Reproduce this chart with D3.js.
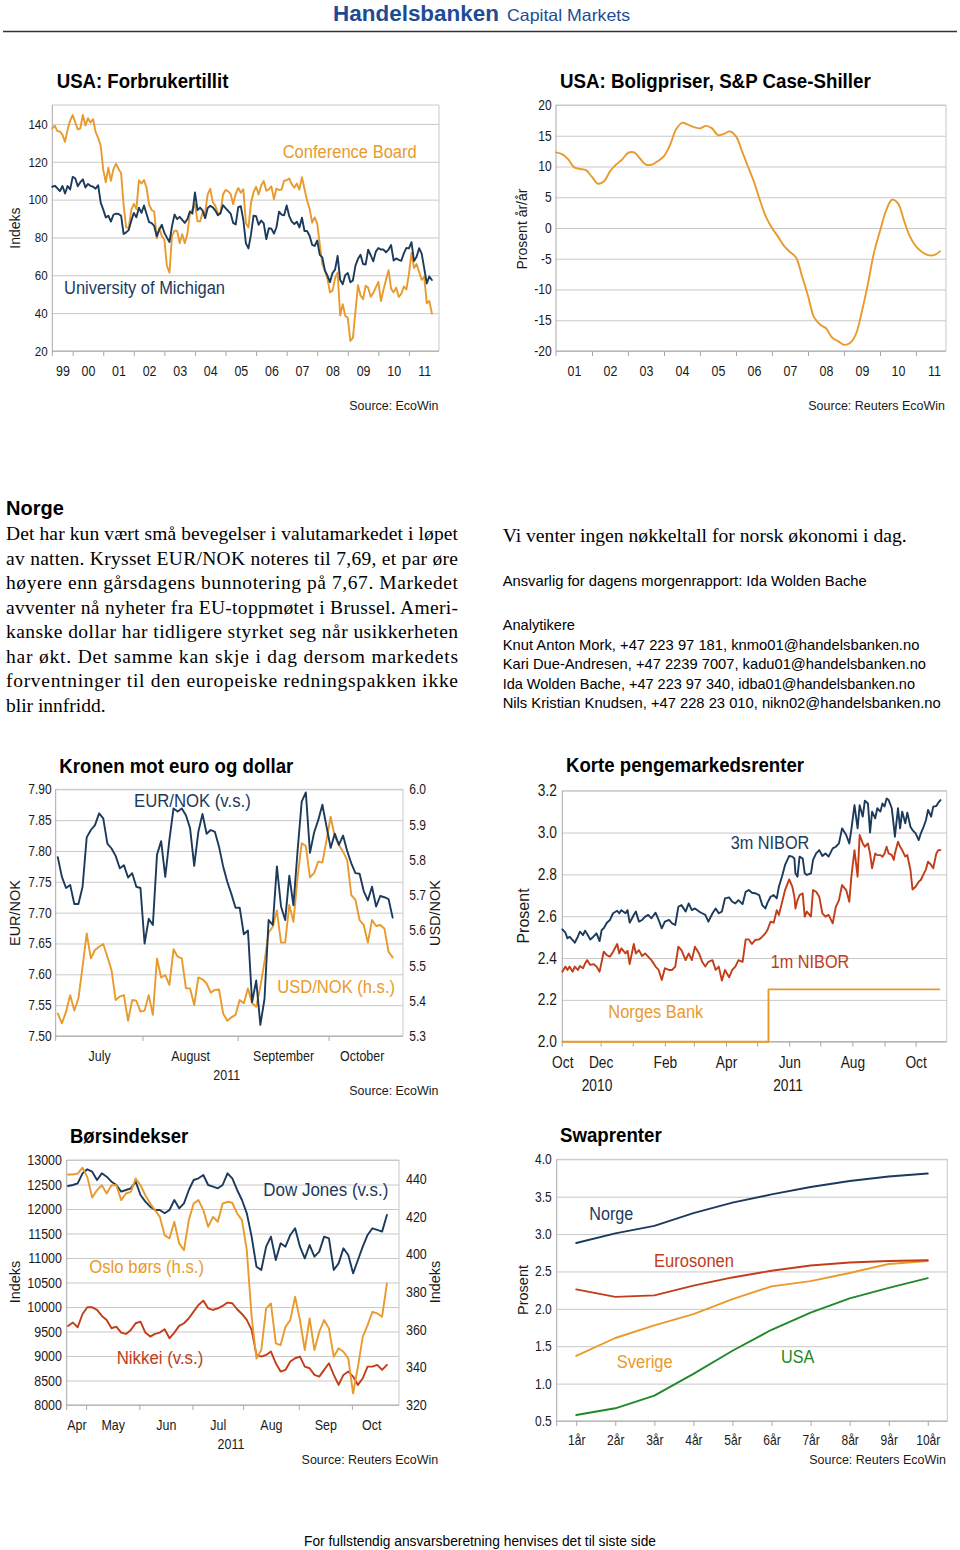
<!DOCTYPE html>
<html>
<head>
<meta charset="utf-8">
<script src="https://cdnjs.cloudflare.com/ajax/libs/d3/7.8.5/d3.min.js"></script>
<style>
  body { margin: 0; background: #fff; }
  svg { display: block; }
</style>
</head>
<body>
<svg id="page" width="960" height="1550"></svg>
<script>
// ---------------- data ----------------

// USA: Forbrukertillit, monthly from May 1999 (month index 4 counted from Jan 1999)
var confStartMonth = 4;
var michigan = [
  106.8, 107.3, 106.0, 104.5, 107.2, 103.2, 107.2, 105.4,
  112.0, 111.3, 107.1, 109.2, 110.7, 106.4, 108.3, 107.3, 106.8, 105.8, 107.6, 98.4,
  94.7, 90.6, 91.5, 88.4, 92.0, 92.6, 92.4, 91.5, 81.8, 82.7, 83.9, 88.8,
  93.0, 90.7, 95.7, 93.0, 96.9, 92.4, 88.1, 87.6, 86.1, 80.6, 84.2, 86.7,
  82.4, 79.9, 77.6, 86.0, 92.1, 89.7, 90.9, 89.3, 87.7, 89.6, 93.7, 92.6,
  103.8, 94.4, 95.8, 94.2, 90.2, 95.6, 96.7, 95.9, 94.2, 91.7, 92.8, 97.1,
  95.5, 94.1, 92.6, 87.7, 86.9, 96.0, 96.5, 89.1, 76.9, 74.2, 81.6, 91.5,
  91.2, 86.7, 88.9, 87.4, 79.1, 84.9, 84.7, 82.0, 85.4, 93.6, 92.1, 91.7,
  96.9, 91.3, 88.4, 87.1, 88.3, 85.3, 90.4, 83.4, 83.4, 80.9, 76.1, 75.5,
  78.4, 70.8, 69.5, 62.6, 59.8, 56.4, 61.2, 63.0, 70.3, 57.6, 55.3, 60.1,
  61.2, 56.3, 57.3, 65.1, 68.7, 70.8, 66.0, 65.7, 73.5, 70.6, 67.4, 72.5,
  74.4, 73.6, 73.6, 72.2, 73.6, 76.0, 67.8, 68.9, 68.2, 67.7, 71.6, 74.5,
  74.2, 77.5, 67.5, 69.8, 74.3, 71.5, 63.7, 55.7, 59.4, 57.5
];
var confBoard = [
  137.7, 139.0, 136.2, 136.0, 134.2, 130.5, 137.0, 141.7,
  144.7, 140.8, 137.1, 137.7, 144.7, 139.2, 143.0, 140.8, 142.5, 135.8, 132.6, 128.6,
  115.7, 109.2, 116.9, 109.9, 116.1, 118.9, 116.3, 114.0, 97.0, 85.3, 84.9, 94.6,
  97.8, 95.0, 110.2, 108.5, 110.3, 106.3, 97.4, 94.5, 93.7, 79.6, 84.9, 80.7,
  78.8, 64.8, 61.4, 81.0, 83.6, 83.5, 77.0, 81.7, 77.0, 81.7, 92.5, 94.8,
  97.7, 88.5, 88.5, 93.0, 93.1, 102.8, 105.7, 98.7, 96.7, 92.9, 92.6, 102.7,
  105.1, 104.4, 103.0, 97.5, 103.1, 106.2, 103.6, 105.5, 87.5, 85.2, 98.3, 103.8,
  106.8, 102.7, 107.5, 109.8, 104.7, 105.4, 107.0, 100.2, 105.9, 105.1, 105.3, 110.0,
  110.2, 111.2, 108.2, 106.3, 108.5, 105.3, 111.9, 105.6, 99.5, 95.2, 87.8, 90.6,
  87.3, 76.4, 65.9, 62.8, 58.1, 51.0, 51.9, 58.5, 61.4, 38.8, 44.7, 38.6,
  37.4, 25.3, 26.9, 40.8, 54.8, 49.3, 47.4, 54.5, 53.4, 48.7, 50.6, 53.6,
  56.5, 46.4, 52.3, 57.7, 62.7, 52.9, 51.0, 53.5, 48.6, 50.2, 54.1, 52.5,
  60.6, 72.0, 63.8, 66.0, 61.7, 57.6, 59.2, 45.2, 46.4, 39.8
];
var yearsA = ["99", "00", "01", "02", "03", "04", "05", "06", "07", "08", "09", "10", "11"];

// USA: Boligpriser, every second month from Jan 2001
var csStartYear = 2001;
var caseShiller = [
  12.3, 12.0, 11.2, 9.9, 9.6, 9.4, 8.3, 7.2, 7.6, 9.2,
  10.3, 11.1, 12.2, 12.3, 11.3, 10.3, 10.3, 10.9, 11.7, 13.5,
  16.0, 17.1, 16.8, 16.4, 16.2, 16.6, 16.2, 15.1, 15.3, 15.7,
  14.9, 12.5, 10.0, 7.5, 4.5, 1.8, 0.0, -1.4, -2.9, -3.9,
  -4.8, -7.8, -11.0, -14.5, -15.7, -16.3, -17.8, -18.4, -19.0, -18.7,
  -17.2, -13.5, -9.0, -4.0, -0.5, 2.8, 4.6, 4.0, 1.2, -1.4,
  -3.0, -3.9, -4.4, -4.4, -3.8
];
var yearsB = ["01", "02", "03", "04", "05", "06", "07", "08", "09", "10", "11"];

// Kronen mot euro og dollar, business days Jul-Oct 2011
var fxMonths = ["July", "August", "September", "October"];
var fxMonthDays = [21, 23, 22, 16];
var eurNok = [
  7.790, 7.758, 7.740, 7.745, 7.714, 7.714, 7.742, 7.822, 7.834, 7.842,
  7.861, 7.853, 7.812, 7.804, 7.792, 7.772, 7.777, 7.757, 7.764, 7.742,
  7.740, 7.650, 7.690, 7.680, 7.794, 7.816, 7.758, 7.818, 7.869, 7.864,
  7.869, 7.858, 7.837, 7.776, 7.831, 7.860, 7.828, 7.834, 7.831, 7.807,
  7.775, 7.750, 7.730, 7.708, 7.708, 7.665, 7.671, 7.555, 7.590, 7.518,
  7.560, 7.688, 7.680, 7.775, 7.710, 7.688, 7.760, 7.712, 7.800, 7.880,
  7.895, 7.797, 7.830, 7.850, 7.875, 7.840, 7.805, 7.828, 7.810, 7.825,
  7.800, 7.780, 7.764, 7.763, 7.735, 7.720, 7.742, 7.710, 7.727, 7.725,
  7.722, 7.692
];
var usdNok = [
  5.364, 5.336, 5.369, 5.416, 5.372, 5.407, 5.497, 5.591, 5.520, 5.544,
  5.553, 5.561, 5.525, 5.487, 5.402, 5.412, 5.416, 5.343, 5.402, 5.400,
  5.369, 5.372, 5.416, 5.360, 5.520, 5.466, 5.473, 5.445, 5.546, 5.525,
  5.520, 5.435, 5.435, 5.388, 5.466, 5.461, 5.449, 5.423, 5.431, 5.432,
  5.364, 5.343, 5.353, 5.360, 5.402, 5.393, 5.435, 5.393, 5.383, 5.440,
  5.511, 5.593, 5.610, 5.656, 5.565, 5.565, 5.672, 5.624, 5.750, 5.847,
  5.839, 5.750, 5.762, 5.795, 5.792, 5.856, 5.922, 5.866, 5.842, 5.823,
  5.799, 5.700, 5.686, 5.629, 5.615, 5.565, 5.629, 5.612, 5.615, 5.605,
  5.539, 5.523
];

// Korte pengemarkedsrenter, days counted from 25 Oct 2010
var niborStart = "2010-10-25";
var niborEnd = "2011-10-31";
var niborDays = [
  0, 3, 5, 7, 10, 12, 15, 17, 20, 22, 24, 27, 30, 33, 36, 38, 40, 43, 46, 49,
  53, 55, 57, 61, 63, 65, 69, 71, 74, 77, 80, 83, 86, 90, 93, 96, 99, 103, 106, 109,
  112, 115, 119, 122, 125, 128, 132, 135, 138, 141, 145, 148, 151, 154, 157, 161, 164, 167, 170, 174,
  177, 180, 183, 186, 190, 193, 196, 198, 201, 204, 207, 209, 212, 215, 219, 222, 224, 225, 227, 229,
  232, 234, 236, 240, 242, 245, 248, 251, 254, 257, 261, 264, 267, 270, 274, 277, 279, 282, 285, 287,
  290, 292, 295, 297, 299, 302, 304, 307, 309, 311, 313, 315, 318, 320, 321, 324, 326, 328, 331, 333,
  336, 338, 341, 344, 346, 349, 351, 353, 356, 358, 361, 363, 365
];
var nibor3m = [
  2.537, 2.521, 2.494, 2.502, 2.486, 2.473, 2.502, 2.526, 2.510, 2.531,
  2.515, 2.489, 2.502, 2.518, 2.481, 2.534, 2.542, 2.569, 2.582, 2.614,
  2.626, 2.614, 2.629, 2.614, 2.629, 2.569, 2.606, 2.622, 2.574, 2.582,
  2.598, 2.606, 2.590, 2.617, 2.582, 2.542, 2.574, 2.582, 2.566, 2.558,
  2.645, 2.653, 2.622, 2.661, 2.629, 2.637, 2.622, 2.614, 2.606, 2.574,
  2.614, 2.637, 2.614, 2.622, 2.685, 2.690, 2.669, 2.661, 2.677, 2.658,
  2.717, 2.725, 2.712, 2.710, 2.701, 2.653, 2.637, 2.664, 2.693, 2.701,
  2.685, 2.741, 2.789, 2.845, 2.888, 2.885, 2.876, 2.805, 2.789, 2.885,
  2.876, 2.805, 2.797, 2.805, 2.869, 2.900, 2.916, 2.888, 2.900, 2.885,
  2.924, 2.932, 2.948, 3.020, 2.988, 2.948, 3.015, 3.131, 3.020, 3.131,
  3.076, 3.152, 3.139, 3.000, 3.100, 3.068, 3.116, 3.100, 3.139, 3.124,
  3.163, 3.155, 3.116, 3.028, 2.980, 3.116, 3.020, 3.100, 3.044, 3.095,
  3.028, 3.012, 2.996, 2.964, 2.996, 3.031, 3.060, 3.108, 3.076, 3.124,
  3.127, 3.143, 3.155
];
var nibor1m = [
  2.335, 2.359, 2.343, 2.359, 2.335, 2.359, 2.343, 2.362, 2.351, 2.374,
  2.390, 2.367, 2.371, 2.359, 2.335, 2.382, 2.430, 2.414, 2.406, 2.430,
  2.467, 2.422, 2.446, 2.422, 2.435, 2.371, 2.467, 2.422, 2.438, 2.410,
  2.422, 2.406, 2.390, 2.359, 2.343, 2.295, 2.351, 2.343, 2.343, 2.359,
  2.454, 2.438, 2.390, 2.422, 2.390, 2.454, 2.422, 2.382, 2.359, 2.382,
  2.390, 2.343, 2.359, 2.292, 2.343, 2.308, 2.343, 2.359, 2.390, 2.382,
  2.489, 2.489, 2.467, 2.486, 2.489, 2.502, 2.518, 2.534, 2.574, 2.569,
  2.629, 2.606, 2.664, 2.725, 2.776, 2.741, 2.693, 2.637, 2.677, 2.701,
  2.709, 2.598, 2.622, 2.598, 2.725, 2.717, 2.693, 2.614, 2.598, 2.606,
  2.566, 2.645, 2.677, 2.749, 2.725, 2.669, 2.789, 2.916, 2.789, 2.988,
  2.948, 2.932, 2.948, 2.900, 2.829, 2.900, 2.892, 2.892, 2.884, 2.900,
  2.932, 2.900, 2.892, 2.869, 2.900, 2.956, 2.932, 2.916, 2.885, 2.892,
  2.821, 2.728, 2.741, 2.765, 2.773, 2.805, 2.824, 2.861, 2.845, 2.829,
  2.900, 2.916, 2.916
];
var policyDates = ["2010-10-25", "2011-05-12", "2011-10-24"];
var policyRate = [2.00, 2.25, 2.25];

// Børsindekser, every second business day from 19 Apr 2011
var stockMonths = ["Apr", "May", "Jun", "Jul", "Aug", "Sep", "Oct"];
var stockMonthDays = [8, 22, 22, 21, 23, 22, 16];
var stockStep = 2;
var dowJones = [
  12469, 12490, 12524, 12728, 12810, 12762, 12592, 12728, 12660, 12558,
  12490, 12354, 12388, 12422, 12558, 12286, 12150, 12048, 11980, 11980,
  11912, 11980, 12184, 12014, 12116, 12388, 12592, 12626, 12694, 12490,
  12456, 12422, 12490, 12728, 12626, 12388, 12184, 11912, 11436, 10823,
  10755, 11231, 11436, 10959, 11300, 11231, 11470, 11606, 11231, 10993,
  11265, 11027, 11130, 11436, 11402, 10755, 10891, 11197, 11061, 10687,
  10959, 11231, 11470, 11606, 11572, 11538, 11878
];
var osloBors = [
  442.4, 442.4, 442.9, 446.0, 441.0, 430.2, 434.1, 436.7, 432.3, 436.7,
  436.7, 428.8, 432.3, 433.2, 440.3, 436.7, 431.4, 427.0, 423.5, 419.9,
  410.2, 408.4, 417.3, 405.8, 402.2, 418.2, 427.0, 428.8, 423.5, 414.6,
  419.9, 417.3, 427.0, 427.9, 427.4, 421.7, 418.2, 402.2, 366.9, 344.7,
  349.2, 371.3, 373.9, 352.7, 351.8, 361.5, 365.1, 377.5, 365.1, 349.2,
  366.0, 349.2, 358.9, 365.1, 360.7, 345.6, 350.1, 348.3, 344.7, 326.1,
  340.3, 356.2, 362.4, 369.5, 368.6, 366.9, 384.6
];
var nikkei = [
  9614, 9682, 9586, 9858, 9994, 9994, 9940, 9818, 9736, 9566,
  9600, 9478, 9450, 9532, 9668, 9702, 9478, 9396, 9450, 9478,
  9546, 9362, 9478, 9614, 9668, 9770, 9906, 10042, 10130, 9974,
  9940, 9974, 10022, 10090, 10076, 9954, 9858, 9736, 9532, 9022,
  8988, 9022, 9090, 8852, 8682, 8716, 8886, 8954, 8988, 8784,
  8750, 8614, 8580, 8716, 8852, 8614, 8410, 8614, 8682, 8580,
  8410, 8546, 8784, 8784, 8818, 8716, 8818
];

// Swaprenter
var swapTenors = ["1år", "2år", "3år", "4år", "5år", "6år", "7år", "8år", "9år", "10år"];
var swapNorge   = [2.88, 3.01, 3.11, 3.28, 3.42, 3.53, 3.63, 3.71, 3.77, 3.81];
var swapEuro    = [2.26, 2.16, 2.18, 2.31, 2.42, 2.51, 2.58, 2.62, 2.64, 2.65];
var swapSverige = [1.37, 1.61, 1.78, 1.93, 2.13, 2.30, 2.37, 2.48, 2.60, 2.64];
var swapUSA     = [0.58, 0.67, 0.84, 1.13, 1.44, 1.72, 1.95, 2.14, 2.28, 2.41];

// text
var norgeLines = [
  "Det har kun vært små bevegelser i valutamarkedet i løpet",
  "av natten. Krysset EUR/NOK noteres til 7,69, et par øre",
  "høyere enn gårsdagens bunnotering på 7,67. Markedet",
  "avventer nå nyheter fra EU-toppmøtet i Brussel. Ameri-",
  "kanske dollar har tidligere styrket seg når usikkerheten",
  "har økt. Det samme kan skje i dag dersom markedets",
  "forventninger til den europeiske redningspakken ikke",
  "blir innfridd."
];
var analysts = [
  "Knut Anton Mork, +47 223 97 181, knmo01@handelsbanken.no",
  "Kari Due-Andresen, +47 2239 7007, kadu01@handelsbanken.no",
  "Ida Wolden Bache, +47 223 97 340, idba01@handelsbanken.no",
  "Nils Kristian Knudsen, +47 228 23 010, nikn02@handelsbanken.no"
];
var analystWidths = [416.7, 423.3, 412.3, 438];

// ---------------- drawing ----------------
var FONT = "'Liberation Sans', Arial, sans-serif";
var SERIF = "'Liberation Serif', 'Times New Roman', serif";
var NAVY = "#1b3a5c", ORANGE = "#e99a2c", RED = "#c23d18", GREEN = "#22882a";
var GRID = "#c9c9c9", AXIS = "#a8a8a8", INK = "#1a1a1a";
var SQ = 0.86; // chart lettering is slightly condensed

var svg = d3.select("#page");
svg.append("rect").attr("width", 960).attr("height", 1550).attr("fill", "#fff");

// fitted text, x = left edge, y = visual centre
function fit(g, x, y, str, w, size, color, weight) {
  return g.append("text")
    .attr("x", x).attr("y", y)
    .attr("dominant-baseline", "central")
    .attr("font-family", FONT).attr("font-size", size)
    .attr("font-weight", weight || "normal")
    .attr("fill", color || INK)
    .attr("textLength", w).attr("lengthAdjust", "spacingAndGlyphs")
    .text(str);
}
function vTitle(g, x, y, str, size) {
  g.append("text")
    .attr("transform", "translate(" + x + "," + y + ") rotate(-90)")
    .attr("text-anchor", "middle").attr("dominant-baseline", "central")
    .attr("font-family", FONT).attr("font-size", size).attr("fill", INK)
    .text(str);
}
function tidy(ax, size) {
  ax.attr("font-family", FONT).attr("font-size", size);
  ax.select(".domain").remove();
  ax.selectAll(".tick text").attr("fill", INK).attr("transform", "scale(" + SQ + ",1)");
}
function yGrid(g, y, x0, x1, ticks, fmt, size, pad) {
  var ax = g.append("g").attr("transform", "translate(" + x0 + ",0)")
    .call(d3.axisLeft(y).tickValues(ticks).tickFormat(fmt)
      .tickSizeInner(-(x1 - x0)).tickSizeOuter(0).tickPadding(pad));
  tidy(ax, size);
  ax.selectAll(".tick line").attr("stroke", GRID);
}
function yRight(g, y, x1, ticks, fmt, size, pad) {
  var ax = g.append("g").attr("transform", "translate(" + x1 + ",0)")
    .call(d3.axisRight(y).tickValues(ticks).tickFormat(fmt).tickSize(0).tickPadding(pad));
  tidy(ax, size);
}
function box(g, x0, x1, yT, yB) {
  g.append("path").attr("d", "M" + x0 + "," + yT + "H" + x1 + "V" + yB)
    .attr("fill", "none").attr("stroke", GRID);
  g.append("path").attr("d", "M" + x0 + "," + yT + "V" + (yB + 5) + "M" + x0 + "," + yB + "H" + x1)
    .attr("fill", "none").attr("stroke", AXIS);
}
function xTicks(g, x, values, yB) {
  var ax = g.append("g").attr("transform", "translate(0," + yB + ")")
    .call(d3.axisBottom(x).tickValues(values).tickFormat("").tickSizeInner(5).tickSizeOuter(0));
  ax.select(".domain").remove();
  ax.selectAll(".tick line").attr("stroke", AXIS);
}
function xLabels(g, x, values, fmt, yB, yc, size) {
  var ax = g.append("g").attr("transform", "translate(0," + yB + ")")
    .call(d3.axisBottom(x).tickValues(values).tickFormat(fmt).tickSize(0)
      .tickPadding(yc - yB - 0.355 * size));
  tidy(ax, size);
  ax.selectAll(".tick line").remove();
}
function series(g, data, xf, yf, color, curve) {
  var gen = d3.line().x(xf).y(yf);
  if (curve) gen.curve(curve);
  g.append("path").datum(data).attr("d", gen)
    .attr("fill", "none").attr("stroke", color).attr("stroke-width", 1.9)
    .attr("stroke-linejoin", "round").attr("stroke-linecap", "round");
}
function title(g, x, y, str, w) { fit(g, x, y, str, w, 21, "#000", "bold"); }
function source(g, xr, y, str, w) { fit(g, xr - w, y, str, w, 13, INK); }
var intFmt = function(d) { return String(d); };

// header
var head = svg.append("g");
fit(head, 333, 13, "Handelsbanken", 166, 22, "#1f4b93", "bold");
fit(head, 507, 14.5, "Capital Markets", 123, 16.5, "#1f4b93");
head.append("line").attr("x1", 3).attr("x2", 957).attr("y1", 31.5).attr("y2", 31.5)
  .attr("stroke", "#333").attr("stroke-width", 1.5);

// ---- chart 1: USA: Forbrukertillit ----
(function() {
  var g = svg.append("g");
  var x0 = 52.3, x1 = 439, yT = 105, yB = 351;
  var x = d3.scaleLinear().domain([4, 155.8]).range([x0, x1]);
  var y = d3.scaleLinear().domain([20, 150]).range([yB, yT]);
  yGrid(g, y, x0, x1, d3.range(20, 141, 20), intFmt, 13.5, 5.3);
  box(g, x0, x1, yT, yB);
  xTicks(g, x, d3.range(12, 145, 12), yB);
  var centres = [8].concat(d3.range(18, 151, 12));
  xLabels(g, x, centres, function(d, i) { return yearsA[i]; }, yB, 370.7, 14.5);
  series(g, confBoard, function(d, i) { return x(confStartMonth + i); }, y, ORANGE);
  series(g, michigan, function(d, i) { return x(confStartMonth + i); }, y, NAVY);
  title(g, 56.7, 80, "USA: Forbrukertillit", 171.7);
  fit(g, 282.7, 151.7, "Conference Board", 134, 18, ORANGE);
  fit(g, 64, 287.7, "University of Michigan", 161, 18, NAVY);
  vTitle(g, 15, 228, "Indeks", 14);
  source(g, 438.3, 405, "Source: EcoWin", 89);
})();

// ---- chart 2: USA: Boligpriser ----
(function() {
  var g = svg.append("g");
  var x0 = 556, x1 = 946, yT = 105, yB = 351;
  var x = d3.scaleLinear().domain([2001, 2011.833]).range([x0, x1]);
  var y = d3.scaleLinear().domain([-20, 20]).range([yB, yT]);
  yGrid(g, y, x0, x1, d3.range(-20, 21, 5), intFmt, 14, 5);
  box(g, x0, x1, yT, yB);
  xTicks(g, x, d3.range(2002, 2012, 1), yB);
  xLabels(g, x, d3.range(2001.5, 2012, 1), function(d, i) { return yearsB[i]; }, yB, 370.7, 14.5);
  series(g, caseShiller, function(d, i) { return x(csStartYear + i / 6); }, y, ORANGE,
    d3.curveCatmullRom.alpha(0.5));
  title(g, 560, 80.7, "USA: Boligpriser, S&P Case-Shiller", 310.7);
  vTitle(g, 521.7, 229, "Prosent år/år", 14);
  source(g, 945, 405, "Source: Reuters EcoWin", 136.7);
})();

// ---- Norge text ----
(function() {
  var g = svg.append("g");
  g.append("text").attr("x", 6).attr("y", 515).attr("font-family", FONT)
    .attr("font-size", 20).attr("font-weight", "bold").attr("fill", "#000").text("Norge");
  norgeLines.forEach(function(s, i) {
    var t = g.append("text").attr("x", 6).attr("y", 540 + i * 24.5)
      .attr("font-family", SERIF).attr("font-size", 19.5).attr("fill", "#000").text(s);
    if (i < norgeLines.length - 1) t.attr("textLength", 452).attr("lengthAdjust", "spacing");
  });
  g.append("text").attr("x", 502.7).attr("y", 542).attr("font-family", SERIF)
    .attr("font-size", 19.5).attr("fill", "#000")
    .attr("textLength", 404).attr("lengthAdjust", "spacingAndGlyphs")
    .text("Vi venter ingen nøkkeltall for norsk økonomi i dag.");
  function sans(y, s, w) {
    g.append("text").attr("x", 502.7).attr("y", y).attr("font-family", FONT)
      .attr("font-size", 14.5).attr("fill", "#000")
      .attr("textLength", w).attr("lengthAdjust", "spacingAndGlyphs").text(s);
  }
  sans(586, "Ansvarlig for dagens morgenrapport: Ida Wolden Bache", 364);
  sans(630, "Analytikere", 72.3);
  analysts.forEach(function(s, i) { sans(650 + i * 19.4, s, analystWidths[i]); });
})();

// ---- chart 3: Kronen mot euro og dollar ----
(function() {
  var g = svg.append("g");
  var x0 = 55.7, x1 = 403, yT = 789.3, yB = 1036;
  var x = d3.scaleLinear().domain([-0.5, 83.5]).range([x0, x1]);
  var yL = d3.scaleLinear().domain([7.5, 7.9]).range([yB, yT]);
  var yR = d3.scaleLinear().domain([5.3, 6.0]).range([yB, yT]);
  yGrid(g, yL, x0, x1, d3.range(0, 9).map(function(k) { return 7.5 + k * 0.05; }), d3.format(".2f"), 14, 4.7);
  yRight(g, yR, x1, d3.range(0, 8).map(function(k) { return 5.3 + k * 0.1; }), d3.format(".1f"), 14, 7.3);
  box(g, x0, x1, yT, yB);
  var ends = d3.cumsum(fxMonthDays);
  var bounds = Array.from(ends).slice(0, -1).map(function(d) { return d - 0.5; });
  xTicks(g, x, bounds, yB);
  var centres = fxMonthDays.map(function(n, i) {
    var s = i ? ends[i - 1] : 0;
    return (s - 0.5 + Math.min(s + n, eurNok.length) - 0.5) / 2;
  });
  xLabels(g, x, centres, function(d, i) { return fxMonths[i]; }, yB, 1056, 14.5);
  g.append("text").attr("transform", "translate(226.7,1075) scale(" + SQ + ",1)")
    .attr("text-anchor", "middle").attr("dominant-baseline", "central")
    .attr("font-family", FONT).attr("font-size", 14.5).attr("fill", INK).text("2011");
  series(g, usdNok, function(d, i) { return x(i); }, yR, ORANGE);
  series(g, eurNok, function(d, i) { return x(i); }, yL, NAVY);
  title(g, 59.3, 765, "Kronen mot euro og dollar", 234);
  fit(g, 134, 801, "EUR/NOK (v.s.)", 116.7, 18, NAVY);
  fit(g, 277.3, 987, "USD/NOK (h.s.)", 117.7, 18, ORANGE);
  vTitle(g, 15, 913, "EUR/NOK", 14.5);
  vTitle(g, 435, 913, "USD/NOK", 14.5);
  source(g, 438.3, 1090, "Source: EcoWin", 89);
})();

// ---- chart 4: Korte pengemarkedsrenter ----
(function() {
  var g = svg.append("g");
  var parse = d3.timeParse("%Y-%m-%d");
  var t0 = parse(niborStart);
  var x0 = 562.3, x1 = 946.7, yT = 790.7, yB = 1041.7;
  var x = d3.scaleTime().domain([t0, parse(niborEnd)]).range([x0, x1]);
  var y = d3.scaleLinear().domain([2.0, 3.2]).range([yB, yT]);
  yGrid(g, y, x0, x1, d3.range(0, 7).map(function(k) { return 2 + k * 0.2; }), d3.format(".1f"), 16, 6.2);
  box(g, x0, x1, yT, yB);
  var months = d3.timeMonth.range(new Date(2010, 11, 1), new Date(2011, 10, 1));
  xTicks(g, x, months, yB);
  var labelled = [t0].concat(months.filter(function(d, i) { return i % 2 === 0; }));
  xLabels(g, x, labelled, d3.timeFormat("%b"), yB, 1062.7, 16);
  [["2010", 597], ["2011", 788]].forEach(function(p) {
    g.append("text").attr("transform", "translate(" + p[1] + ",1085) scale(" + SQ + ",1)")
      .attr("text-anchor", "middle").attr("dominant-baseline", "central")
      .attr("font-family", FONT).attr("font-size", 16).attr("fill", INK).text(p[0]);
  });
  var xd = function(d, i) { return x(d3.timeDay.offset(t0, niborDays[i])); };
  series(g, policyRate, function(d, i) { return x(parse(policyDates[i])); }, y, ORANGE, d3.curveStepAfter);
  series(g, nibor1m, xd, y, RED);
  series(g, nibor3m, xd, y, NAVY);
  title(g, 566, 764.3, "Korte pengemarkedsrenter", 238);
  fit(g, 730.7, 843.3, "3m NIBOR", 78.6, 18, NAVY);
  fit(g, 770.7, 961.7, "1m NIBOR", 78.6, 18, RED);
  fit(g, 608.3, 1011.7, "Norges Bank", 95, 18, ORANGE);
  vTitle(g, 523, 916, "Prosent", 16);
})();

// ---- chart 5: Børsindekser ----
(function() {
  var g = svg.append("g");
  var x0 = 66.7, x1 = 399, yT = 1160, yB = 1405;
  var x = d3.scaleLinear().domain([-0.55, 137]).range([x0, x1]);
  var yL = d3.scaleLinear().domain([8000, 13000]).range([yB, yT]);
  var yR = d3.scaleLinear().domain([320, 450.1]).range([yB, yT]);
  yGrid(g, yL, x0, x1, d3.range(8000, 13001, 500), intFmt, 14.5, 5.5);
  yRight(g, yR, x1, d3.range(320, 441, 20), intFmt, 14.5, 8.1);
  box(g, x0, x1, yT, yB);
  var ends = d3.cumsum(stockMonthDays);
  var bounds = Array.from(ends).slice(0, -1).map(function(d) { return d - 0.5; });
  xTicks(g, x, bounds, yB);
  var centres = stockMonthDays.map(function(n, i) {
    var s = i ? ends[i - 1] : 0;
    return (s + s + n) / 2 - 0.5;
  });
  xLabels(g, x, centres, function(d, i) { return stockMonths[i]; }, yB, 1425, 14.5);
  g.append("text").attr("transform", "translate(231,1444) scale(" + SQ + ",1)")
    .attr("text-anchor", "middle").attr("dominant-baseline", "central")
    .attr("font-family", FONT).attr("font-size", 14.5).attr("fill", INK).text("2011");
  var xi = function(d, i) { return x(i * stockStep); };
  series(g, nikkei, xi, yL, RED);
  series(g, dowJones, xi, yL, NAVY);
  series(g, osloBors, xi, yR, ORANGE);
  title(g, 70, 1135, "Børsindekser", 118.3);
  fit(g, 263.3, 1190, "Dow Jones (v.s.)", 125, 18, NAVY);
  fit(g, 89.3, 1267.3, "Oslo børs (h.s.)", 114.7, 18, ORANGE);
  fit(g, 116.7, 1358.3, "Nikkei (v.s.)", 86.6, 18, RED);
  vTitle(g, 15, 1282, "Indeks", 14.5);
  vTitle(g, 435, 1282, "Indeks", 14.5);
  source(g, 438.3, 1459.3, "Source: Reuters EcoWin", 136.7);
})();

// ---- chart 6: Swaprenter ----
(function() {
  var g = svg.append("g");
  var x0 = 556.7, x1 = 947.3, yT = 1159.3, yB = 1421;
  var x = d3.scalePoint().domain(swapTenors).range([x0, x1]).padding(0.5);
  var y = d3.scaleLinear().domain([0.5, 4.0]).range([yB, yT]);
  yGrid(g, y, x0, x1, d3.range(0, 8).map(function(k) { return 0.5 + k * 0.5; }), d3.format(".1f"), 14, 5.8);
  box(g, x0, x1, yT, yB);
  xTicks(g, x, swapTenors, yB);
  xLabels(g, x, swapTenors, function(d) { return d; }, yB, 1440, 14);
  var xs = function(d, i) { return x(swapTenors[i]); };
  series(g, swapUSA, xs, y, GREEN);
  series(g, swapSverige, xs, y, ORANGE);
  series(g, swapEuro, xs, y, RED);
  series(g, swapNorge, xs, y, NAVY);
  title(g, 560, 1134, "Swaprenter", 101.7);
  fit(g, 589.3, 1214.3, "Norge", 44, 18, NAVY);
  fit(g, 654, 1260.7, "Eurosonen", 80, 18, RED);
  fit(g, 616.7, 1361.7, "Sverige", 56, 18, ORANGE);
  fit(g, 781, 1356.7, "USA", 33.3, 18, GREEN);
  vTitle(g, 522.7, 1290, "Prosent", 14.5);
  source(g, 946, 1459.3, "Source: Reuters EcoWin", 136.7);
})();

// footer
fit(svg, 304, 1541, "For fullstendig ansvarsberetning henvises det til siste side", 352, 14, "#000");
</script>
</body>
</html>
